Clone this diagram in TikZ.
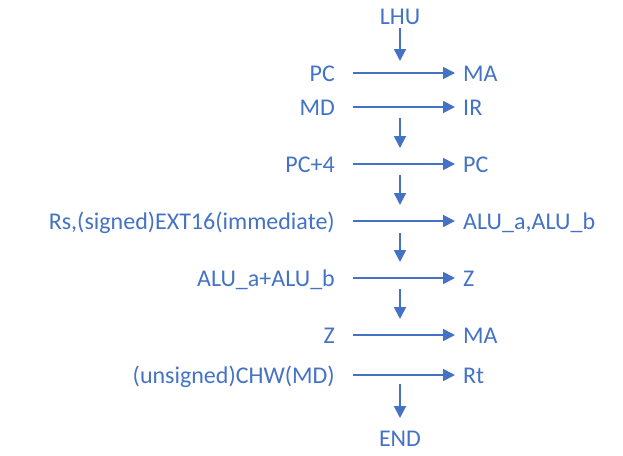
\documentclass[tikz,border=0pt]{standalone}
\usepackage{fontspec}
\setmainfont{Carlito}
\usetikzlibrary{arrows.meta}
\definecolor{ablue}{HTML}{4472C4}
\begin{document}
\begin{tikzpicture}[x=1pt,y=-1pt,
  txt/.style={text=ablue,font=\fontsize{24}{28}\selectfont,inner sep=0pt},
  lt/.style={txt,anchor=base east},
  rt/.style={txt,anchor=base west},
  arr/.style={draw=ablue,line width=1.8pt,-{Triangle[length=12pt,width=12pt]}}]
\useasboundingbox (0,0) rectangle (623,455);
% top and bottom labels
\node[txt,anchor=base] (lhu) at (400,24) {LHU};
\node[txt,anchor=base] (end) at (400,446.5) {END};
% rows
\node[lt] (l1) at (335,81) {PC};
\node[rt] (r1) at (463,81) {MA};
\node[lt] (l2) at (335,115) {MD};
\node[rt] (r2) at (463,115) {IR};
\node[lt] (l3) at (335,172) {PC+4};
\node[rt] (r3) at (463,172) {PC};
\node[lt] (l4) at (335,229) {Rs,(signed)EXT16(immediate)};
\node[rt] (r4) at (463,229) {ALU\_a,ALU\_b};
\node[lt] (l5) at (335,286) {ALU\_a+ALU\_b};
\node[rt] (r5) at (463,286) {Z};
\node[lt] (l6) at (335,343) {Z};
\node[rt] (r6) at (463,343) {MA};
\node[lt] (l7) at (335,383) {(unsigned)CHW(MD)};
\node[rt] (r7) at (463,383) {Rt};
% horizontal arrow ends
\foreach \i/\y in {1/73,2/107,3/164,4/221,5/278,6/335,7/375}{
  \coordinate (hs\i) at (353,\y);
  \coordinate (he\i) at (455,\y);
}
\foreach \i in {1,...,7}{\draw[arr] (hs\i) -- (he\i);}
% vertical arrow ends
\foreach \i/\a/\b in {0/28/61,1/118/148,2/175/205,3/233/262,4/289/319,5/384/418}{
  \coordinate (vs\i) at (400,\a);
  \coordinate (ve\i) at (400,\b);
}
\foreach \i in {0,...,5}{\draw[arr] (vs\i) -- (ve\i);}
\end{tikzpicture}
\end{document}
